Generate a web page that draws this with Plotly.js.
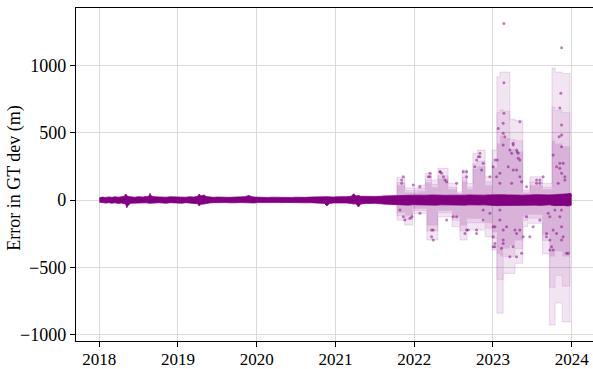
<!DOCTYPE html>
<html>
<head>
<meta charset="utf-8">
<script src="https://cdn.plot.ly/plotly-3.0.1.min.js"></script>
<style>
  html, body { margin: 0; padding: 0; overflow: hidden; background: #fff; }
  #chart { width: 600px; height: 369px; }
</style>
</head>
<body>
<div id="chart"></div>
<script>
// Daily GT deviation error, 2018-2024 (decimal-year time stamps)

// Dense core of the daily errors: upper / lower edge of the bulk of the points
const coreYears = [
  2018.00, 2018.04, 2018.08, 2018.12, 2018.16, 2018.20, 2018.24, 2018.28, 2018.32, 2018.335,
  2018.35, 2018.365, 2018.40, 2018.45, 2018.50, 2018.55, 2018.60, 2018.63, 2018.645, 2018.66,
  2018.70, 2018.75, 2018.80, 2018.85, 2018.90, 2018.95, 2019.00, 2019.05, 2019.10, 2019.15,
  2019.20, 2019.25, 2019.27, 2019.29, 2019.33, 2019.36, 2019.40, 2019.45, 2019.50, 2019.55,
  2019.60, 2019.65, 2019.70, 2019.75, 2019.80, 2019.85, 2019.90, 2019.93, 2019.97, 2020.02,
  2020.08, 2020.14, 2020.20, 2020.26, 2020.32, 2020.38, 2020.44, 2020.50, 2020.56, 2020.62,
  2020.68, 2020.74, 2020.80, 2020.86, 2020.89, 2020.92, 2020.97, 2021.02, 2021.08, 2021.14,
  2021.20, 2021.23, 2021.26, 2021.29, 2021.32, 2021.38, 2021.44, 2021.50, 2021.56, 2021.62,
  2021.68, 2021.74, 2021.80, 2021.86, 2021.92, 2021.98, 2022.04, 2022.10, 2022.16, 2022.22,
  2022.28, 2022.34, 2022.40, 2022.46, 2022.52, 2022.58, 2022.64, 2022.70, 2022.76, 2022.82,
  2022.88, 2022.94, 2023.00, 2023.06, 2023.12, 2023.18, 2023.24, 2023.30, 2023.36, 2023.42,
  2023.48, 2023.54, 2023.60, 2023.66, 2023.72, 2023.78, 2023.84, 2023.90, 2023.95, 2023.99,
  2024.00];
const coreHi = [
  16, 22, 19, 23, 20, 24, 21, 26, 28, 45,
  32, 26, 24, 21, 25, 22, 26, 28, 50, 30,
  24, 22, 25, 21, 24, 22, 20, 23, 21, 24,
  22, 28, 45, 30, 38, 26, 22, 20, 22, 19,
  21, 20, 22, 20, 23, 25, 34, 26, 22, 20,
  22, 19, 21, 20, 18, 20, 19, 21, 19, 20,
  22, 21, 23, 24, 25, 23, 22, 24, 22, 25,
  28, 46, 30, 34, 28, 26, 24, 27, 28, 30,
  32, 33, 35, 36, 35, 36, 35, 38, 36, 38,
  36, 38, 35, 36, 35, 37, 36, 38, 36, 39,
  36, 38, 40, 41, 40, 38, 40, 37, 36, 35,
  38, 40, 38, 36, 38, 40, 41, 42, 46, 50,
  30];
const coreLo = [
  -16, -20, -23, -20, -24, -21, -25, -23, -26, -30,
  -58, -40, -24, -22, -20, -23, -21, -24, -25, -22,
  -23, -20, -22, -24, -20, -23, -21, -24, -20, -22,
  -25, -28, -45, -32, -30, -25, -22, -20, -18, -20,
  -19, -21, -18, -20, -19, -21, -22, -20, -22, -19,
  -20, -21, -18, -20, -19, -18, -20, -18, -19, -21,
  -20, -22, -21, -25, -45, -26, -22, -21, -23, -22,
  -26, -30, -28, -52, -30, -25, -26, -24, -28, -30,
  -32, -33, -34, -36, -38, -35, -36, -36, -39, -36,
  -38, -36, -37, -35, -36, -35, -38, -36, -38, -37,
  -36, -39, -38, -42, -41, -40, -38, -39, -37, -36,
  -36, -38, -40, -38, -36, -42, -40, -41, -44, -41,
  -30];

// Envelopes from 2021 onwards: outer spread, inner spread, dense point cloud
const bandYears = [
  2021.60, 2021.78, 2021.88, 2021.98, 2022.05, 2022.14, 2022.16, 2022.22, 2022.30, 2022.43,
  2022.48, 2022.54, 2022.58, 2022.61, 2022.67, 2022.745, 2022.80, 2022.90, 2022.99, 2023.05,
  2023.09, 2023.13, 2023.215, 2023.28, 2023.38, 2023.44, 2023.47, 2023.63, 2023.72, 2023.75,
  2023.79, 2023.88, 2023.965, 2023.98];
const outerHi = [
  37, 170, 89, 89, 111, 198, 198, 149, 235, 124,
  124, 60, 60, 223, 124, 345, 371, 173, 371, 915,
  950, 950, 600, 590, 74, 74, 173, 124, 124, 980,
  950, 940, 940, 40];
const outerLo = [
  -37, -150, -186, -99, -99, -99, -297, -297, -124, -124,
  -198, -198, -297, -297, -223, -223, -223, -272, -371, -841,
  -841, -545, -545, -470, -198, -173, -173, -400, -929, -929,
  -765, -906, -906, -40];
const innerHi = [
  30, 130, 70, 70, 85, 150, 150, 115, 180, 95,
  95, 48, 48, 170, 95, 270, 290, 135, 280, 650,
  670, 660, 450, 440, 60, 60, 135, 95, 95, 690,
  665, 650, 650, 32];
const innerLo = [
  -30, -115, -145, -78, -78, -78, -230, -230, -95, -95,
  -150, -150, -230, -230, -170, -170, -170, -210, -285, -590,
  -590, -420, -420, -360, -150, -135, -135, -300, -650, -650,
  -560, -640, -640, -32];
const denseHi = [
  30, 110, 55, 55, 65, 130, 130, 95, 160, 80,
  80, 42, 42, 140, 80, 230, 250, 110, 240, 420,
  480, 460, 380, 360, 50, 50, 110, 80, 80, 440,
  420, 400, 400, 30];
const denseLo = [
  -30, -95, -115, -65, -65, -65, -190, -190, -80, -80,
  -125, -125, -190, -190, -140, -140, -140, -170, -240, -400,
  -420, -360, -340, -300, -125, -110, -110, -260, -420, -420,
  -380, -420, -420, -30];

// Individual large-error days
const pointYears = [
  2023.139, 2023.872, 2023.139, 2023.863, 2023.850, 2023.139, 2023.342, 2023.130, 2023.872, 2023.067,
  2023.257, 2023.308, 2023.237, 2023.841, 2023.872, 2023.765, 2022.834, 2022.876, 2022.792, 2023.054,
  2023.194, 2023.342, 2022.622, 2022.326, 2022.199, 2021.840, 2023.850, 2023.596, 2023.427, 2022.538,
  2022.411, 2022.961, 2023.088, 2023.300, 2023.914, 2021.987, 2022.072, 2023.130, 2023.130, 2023.257,
  2023.300, 2023.321, 2023.257, 2023.342, 2023.088, 2023.237, 2023.364, 2023.872, 2023.892, 2023.808,
  2023.872, 2023.914, 2023.638, 2023.554, 2021.860, 2022.200, 2022.330, 2022.370, 2022.834, 2022.770,
  2022.665, 2023.150, 2023.025, 2023.046, 2023.215, 2023.321, 2023.829, 2023.850, 2021.840, 2022.178,
  2022.348, 2022.390, 2022.665, 2022.813, 2022.856, 2023.003, 2023.554, 2023.596,
  2021.945, 2022.241, 2022.686, 2023.025, 2023.130, 2023.173, 2023.257, 2023.300, 2023.364, 2023.025,
  2022.876, 2022.792, 2022.538, 2022.411, 2023.765, 2023.723, 2023.681, 2023.808, 2023.872, 2023.935,
  2023.872, 2023.765, 2023.723, 2023.596, 2023.511, 2023.427, 2023.215, 2023.088, 2022.961, 2022.072,
  2021.818, 2023.850, 2023.003, 2023.130, 2023.109, 2023.342, 2023.469, 2023.702, 2023.744, 2023.892,
  2023.956, 2021.880, 2022.220, 2021.970, 2022.665, 2022.876, 2022.495, 2023.003, 2023.088, 2023.003,
  2023.130, 2023.279, 2023.300, 2023.384, 2023.680, 2023.723, 2023.787, 2023.870, 2021.860, 2022.220,
  2022.241, 2022.644, 2022.792, 2023.025];
const pointValues = [
  1310, 1131, 871, 793, 683, 645, 582, 570, 557, 532,
  421, 359, 347, 470, 396, 334, 322, 273, 297, 297,
  247, 297, 210, 210, 173, 124, 235, 149, 99, 124,
  136, 173, 198, 223, 173, 111, 99, 495, 409, 409,
  371, 310, 223, 173, 124, 124, 136, 483, 273, 247,
  198, 149, 173, 124, 173, 198, 210, 173, 347, 247,
  210, 470, 297, 173, 371, 347, 124, 273, 149, 173,
  198, 149, 173, 322, 223, 247, 149, 124,
  -136, -223, -223, -347, -297, -198, -347, -248, -396, -198,
  -149, -248, -124, -149, -371, -297, -248, -248, -198, -396,
  -297, -223, -124, -149, -198, -124, -421, -149, -99, -99,
  -74, -124, -198, -223, -359, -223, -272, -99, -347, -272,
  -396, -149, -272, -124, -223, -74, -124, -347, -74, -272,
  -322, -223, -421, -272, -272, -371, -74, -74, -124, -223,
  -297, -248, -223, -322];

const yTicks = [-1000, -500, 0, 500, 1000];
const xTickLabels = ['2018', '2019', '2020', '2021', '2022', '2023', '2024'];

// decimal year -> ISO date string
function toDate(y) {
  const yr = Math.floor(y);
  const start = Date.UTC(yr, 0, 1);
  const end = Date.UTC(yr + 1, 0, 1);
  return new Date(start + (y - yr) * (end - start)).toISOString().slice(0, 19);
}

const purple = 'rgb(128,0,128)';
const bx = bandYears.map(toDate);
const cx = coreYears.map(toDate);

function band(lo, hi, fillAlpha, lineAlpha) {
  const line = { color: 'rgba(128,0,128,' + lineAlpha + ')', width: 0.8, shape: 'hv' };
  return [
    { x: bx, y: lo, mode: 'lines', line: line, hoverinfo: 'skip' },
    { x: bx, y: hi, mode: 'lines', fill: 'tonexty', fillcolor: 'rgba(128,0,128,' + fillAlpha + ')', line: line, hoverinfo: 'skip' }
  ];
}

const traces = [].concat(
  band(outerLo, outerHi, 0.10, 0.16),
  band(innerLo, innerHi, 0.09, 0.12),
  band(denseLo, denseHi, 0.14, 0.0),
  [
    { x: cx, y: coreLo, mode: 'lines', line: { color: 'rgba(128,0,128,0.75)', width: 1 }, hoverinfo: 'skip' },
    { x: cx, y: coreHi, mode: 'lines', fill: 'tonexty', fillcolor: purple,
      line: { color: 'rgba(128,0,128,0.75)', width: 1 }, hoverinfo: 'skip' },
    { x: pointYears.map(toDate), y: pointValues, mode: 'markers',
      marker: { color: 'rgba(128,0,128,0.5)', size: 3, line: { width: 0 } } }
  ]
);

const serif = 'Liberation Serif, Times New Roman, serif';

const layout = {
  width: 600, height: 369,
  margin: { l: 76, r: 5, t: 8, b: 28 },
  paper_bgcolor: '#fff', plot_bgcolor: '#fff',
  showlegend: false,
  xaxis: {
    type: 'date',
    range: [toDate(2017.704), toDate(2024.296)],
    tickvals: xTickLabels.map(s => s + '-01-01'),
    ticktext: xTickLabels,
    showgrid: true, gridcolor: 'rgb(218,218,218)', gridwidth: 1,
    showline: true, mirror: true, linecolor: '#000', linewidth: 1.2,
    ticks: 'outside', ticklen: 5, tickcolor: '#000', tickwidth: 1,
    ticklabelstandoff: -3,
    tickfont: { family: serif, size: 17, color: '#000' }, zeroline: false
  },
  yaxis: {
    range: [-1047, 1426],
    tickvals: yTicks,
    ticktext: yTicks.map(v => (v < 0 ? '\u2212' + Math.abs(v) : String(v))),
    showgrid: true, gridcolor: 'rgb(218,218,218)', gridwidth: 1,
    showline: true, mirror: true, linecolor: '#000', linewidth: 1.2,
    ticks: 'outside', ticklen: 5, tickcolor: '#000', tickwidth: 1,
    tickfont: { family: serif, size: 18, color: '#000' }, zeroline: false
  },
  annotations: [{
    text: 'Error in GT dev (m)', textangle: -90,
    xref: 'paper', yref: 'paper', x: (15 - 76) / 519, y: 0.49,
    xanchor: 'center', yanchor: 'middle', showarrow: false,
    font: { family: serif, size: 18, color: '#000' }
  }]
};

Plotly.newPlot('chart', traces, layout, { staticPlot: true, displayModeBar: false });
</script>
</body>
</html>
